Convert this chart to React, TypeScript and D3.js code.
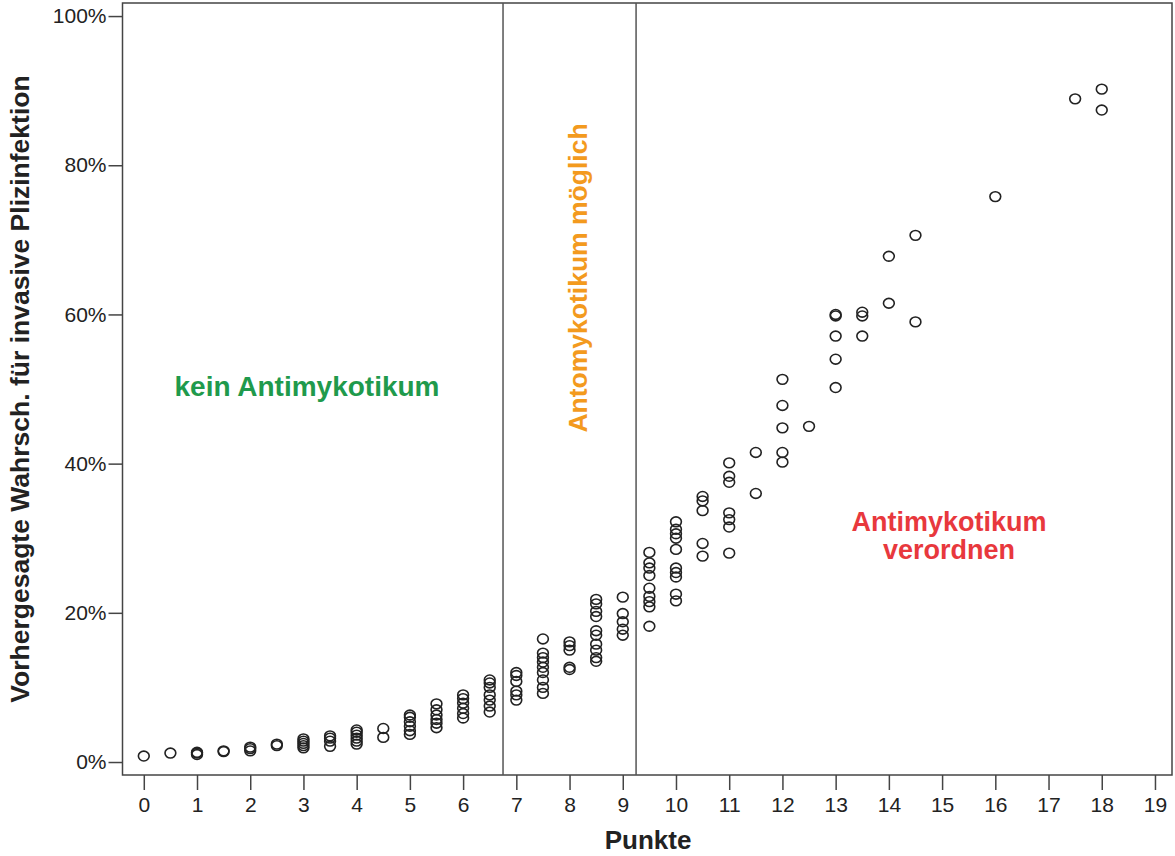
import React, { useEffect, useRef } from "react";
import * as d3 from "d3";

// Punkte (score) groups and the predicted probabilities (%)
const scores = [0, 0.5, 1, 1.5, 2, 2.5, 3, 3.5, 4, 4.5, 5, 5.5, 6, 6.5, 7, 7.5, 8, 8.5, 9, 9.5, 10, 10.5, 11, 11.5, 12, 12.5, 13, 13.5, 14, 14.5, 16, 17.5, 18];
const probs = [
  [0.8],
  [1.2],
  [1.0, 1.2, 1.3],
  [1.4, 1.5],
  [1.5, 1.8, 2.0],
  [2.2, 2.4],
  [1.9, 2.2, 2.5, 2.8, 3.1],
  [2.1, 2.8, 3.2, 3.5],
  [2.4, 2.8, 3.2, 3.6, 4.0, 4.3],
  [3.3, 4.5],
  [3.7, 4.2, 4.8, 5.4, 6.0, 6.3],
  [4.6, 5.2, 5.7, 6.3, 7.0, 7.8],
  [5.9, 6.5, 7.2, 7.9, 8.5, 9.0],
  [6.7, 7.5, 8.3, 9.0, 10.0, 10.6, 11.0],
  [8.3, 9.0, 9.5, 10.8, 11.6, 12.0],
  [9.2, 10.0, 11.0, 12.0, 12.7, 13.4, 14.0, 14.6, 16.5],
  [12.4, 12.7, 15.0, 15.6, 16.1],
  [13.5, 14.0, 15.0, 15.8, 17.0, 17.6, 19.5, 20.2, 21.2, 21.8],
  [17.0, 17.8, 18.8, 19.9, 22.1],
  [18.2, 20.8, 21.5, 22.2, 23.3, 25.0, 26.0, 26.7, 28.1],
  [21.6, 22.5, 24.8, 25.4, 26.0, 28.5, 30.0, 30.6, 31.2, 32.2],
  [27.6, 29.3, 33.7, 35.0, 35.6],
  [28.0, 31.5, 32.5, 33.4, 37.5, 38.3, 40.1],
  [36.0, 41.5],
  [40.2, 41.5, 44.8, 47.8, 51.3],
  [45.0],
  [50.2, 54.0, 57.1, 59.8, 60.0],
  [57.1, 59.8, 60.3],
  [61.5, 67.8],
  [59.0, 70.6],
  [75.8],
  [88.9],
  [87.4, 90.2],
];
const xTicks = d3.range(0, 20);
const yTicks = [0, 20, 40, 60, 80, 100];
const cutoffs = [6.75, 9.25];

export default function App() {
  const ref = useRef<SVGSVGElement>(null);

  useEffect(() => {
    const svg = d3.select(ref.current);
    svg.selectAll("*").remove();

    const font = "'Liberation Sans', Arial, sans-serif";
    const left = 122.5, right = 1172, top = 3, bottom = 775;

    const x = d3.scaleLinear().domain([-0.4, 19.32]).range([left, right]);
    const y = d3.scaleLinear().domain([-1.74, 101.75]).range([bottom, top]);

    // frame
    svg.append("rect")
      .attr("x", left).attr("y", top)
      .attr("width", right - left).attr("height", bottom - top)
      .attr("fill", "white").attr("stroke", "#444").attr("stroke-width", 1.5);

    // x axis
    const gx = svg.append("g")
      .attr("transform", `translate(0,${bottom})`)
      .call(d3.axisBottom(x).tickValues(xTicks).tickSize(15).tickPadding(7).tickSizeOuter(0));
    gx.select(".domain").remove();
    gx.selectAll("line").attr("stroke", "#444").attr("stroke-width", 1.5);
    gx.selectAll("text").attr("font-family", font).attr("font-size", 21).attr("fill", "#222");

    // y axis
    const gy = svg.append("g")
      .attr("transform", `translate(${left},0)`)
      .call(d3.axisLeft(y).tickValues(yTicks).tickSize(14).tickPadding(2).tickFormat(d => `${d}%`));
    gy.select(".domain").remove();
    gy.selectAll("line").attr("stroke", "#444").attr("stroke-width", 1.5);
    gy.selectAll("text").attr("font-family", font).attr("font-size", 21).attr("fill", "#222");

    // cut-off lines
    svg.selectAll(".cut")
      .data(cutoffs)
      .enter().append("line")
      .attr("x1", d => x(d)).attr("x2", d => x(d))
      .attr("y1", top).attr("y2", bottom)
      .attr("stroke", "#555").attr("stroke-width", 1.5);

    // points
    const pts = scores.flatMap((s, i) => probs[i].map(p => ({ s, p })));
    svg.selectAll(".pt")
      .data(pts)
      .enter().append("ellipse")
      .attr("cx", d => x(d.s)).attr("cy", d => y(d.p))
      .attr("rx", 5.4).attr("ry", 4.9)
      .attr("fill", "none").attr("stroke", "#222").attr("stroke-width", 1.6);

    // region annotations
    svg.append("text")
      .attr("x", 307).attr("y", 396)
      .attr("text-anchor", "middle")
      .attr("font-family", font).attr("font-weight", "bold").attr("font-size", 28)
      .attr("fill", "#1f9a4c")
      .text("kein Antimykotikum");

    svg.append("text")
      .attr("transform", `translate(587,278) rotate(-90)`)
      .attr("text-anchor", "middle")
      .attr("font-family", font).attr("font-weight", "bold").attr("font-size", 26.5)
      .attr("fill", "#f39a1e")
      .text("Antomykotikum möglich");

    const red = svg.append("text")
      .attr("text-anchor", "middle")
      .attr("font-family", font).attr("font-weight", "bold").attr("font-size", 27)
      .attr("fill", "#e8383d");
    red.append("tspan").attr("x", 949).attr("y", 531).text("Antimykotikum");
    red.append("tspan").attr("x", 949).attr("y", 559).text("verordnen");

    // axis titles
    svg.append("text")
      .attr("x", 648).attr("y", 849)
      .attr("text-anchor", "middle")
      .attr("font-family", font).attr("font-weight", "bold").attr("font-size", 26)
      .attr("fill", "#222")
      .text("Punkte");

    svg.append("text")
      .attr("transform", `translate(29,389) rotate(-90)`)
      .attr("text-anchor", "middle")
      .attr("font-family", font).attr("font-weight", "bold").attr("font-size", 26.5)
      .attr("fill", "#222")
      .text("Vorhergesagte Wahrsch. für invasive Plizinfektion");
  }, []);

  return (
    <svg
      ref={ref}
      width={1175}
      height={856}
      style={{ position: "absolute", left: 0, top: 0, background: "white" }}
    />
  );
}
